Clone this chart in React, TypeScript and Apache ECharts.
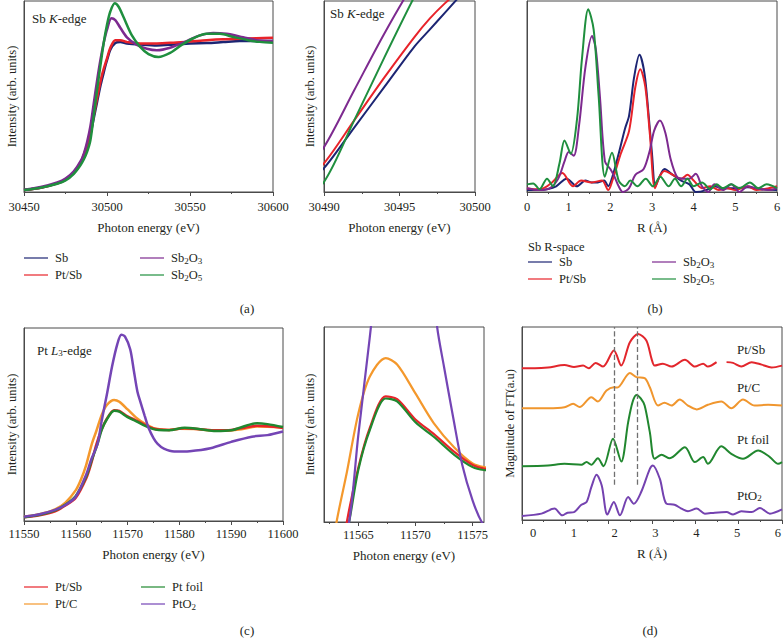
import React, { useEffect, useRef } from 'react';
import * as echarts from 'echarts';

type Pt = [number, number | null];

// ---------- tick labels / ranges ----------
const xTicksA = [30450, 30500, 30550, 30600];
const xTicksA2 = [30490, 30495, 30500];
const xTicksB = [0, 1, 2, 3, 4, 5, 6];
const xTicksC = [11550, 11560, 11570, 11580, 11590, 11600];
const xRangeC2 = [11562, 11576];
const xTicksC2 = [11565, 11570, 11575];
const xMinorC2 = [11562.5, 11567.5, 11572.5];
const xTicksD = [0, 1, 2, 3, 4, 5, 6];
const xLabelRangeD = [-0.27, 6.1];
const yRangeA2 = [0.25, 0.65];
const yRangeC2 = [0.4, 0.67];
const dashR = [2.12, 2.65];
const dashYFrom = 0.183;

// ---------- (a) Sb K-edge XANES ----------
const sbK: Pt[] = [[30450,0.01],[30460,0.022],[30470,0.045],[30475,0.065],[30480,0.1],[30484,0.15],[30486,0.19],[30488,0.24],[30490,0.3],[30492,0.385],[30494,0.47],[30496,0.555],[30497,0.59],[30498,0.625],[30499,0.66],[30500,0.69],[30502,0.745],[30505,0.78],[30508,0.785],[30512,0.778],[30520,0.772],[30530,0.767],[30540,0.772],[30550,0.778],[30560,0.78],[30570,0.785],[30580,0.79],[30590,0.79],[30600,0.79]];
const ptsbK: Pt[] = [[30450,0.01],[30460,0.022],[30470,0.045],[30475,0.065],[30480,0.1],[30484,0.15],[30486,0.195],[30488,0.245],[30490,0.31],[30492,0.4],[30494,0.49],[30496,0.575],[30497,0.613],[30498,0.645],[30499,0.672],[30500,0.7],[30502,0.755],[30505,0.795],[30508,0.795],[30512,0.785],[30520,0.778],[30530,0.778],[30540,0.782],[30550,0.788],[30560,0.795],[30570,0.8],[30580,0.802],[30590,0.805],[30600,0.807]];
const sb2o3K: Pt[] = [[30450,0.012],[30460,0.026],[30470,0.05],[30475,0.07],[30480,0.108],[30484,0.16],[30486,0.2],[30488,0.262],[30490,0.344],[30492,0.463],[30494,0.582],[30496,0.69],[30498,0.78],[30500,0.85],[30502.7,0.91],[30505,0.9],[30508,0.86],[30512,0.81],[30518,0.77],[30524,0.75],[30530,0.742],[30538,0.755],[30548,0.79],[30556,0.82],[30564,0.833],[30572,0.828],[30582,0.81],[30590,0.795],[30600,0.79]];
const sb2o5K: Pt[] = [[30450,0.01],[30460,0.022],[30470,0.043],[30475,0.06],[30480,0.095],[30484,0.14],[30486,0.17],[30488,0.21],[30490,0.271],[30492,0.4],[30494,0.532],[30496,0.66],[30498,0.78],[30500,0.875],[30502,0.945],[30504.7,0.988],[30507,0.97],[30510,0.915],[30515,0.82],[30520,0.76],[30525,0.722],[30531,0.707],[30538,0.728],[30545,0.77],[30552,0.805],[30560,0.828],[30568,0.828],[30576,0.812],[30585,0.795],[30592,0.786],[30600,0.782]];

// ---------- (b) Sb R-space ----------
const sbR: Pt[] = [[0,0.01],[0.3,0.01],[0.5,0.015],[0.7,0.03],[0.95,0.07],[1.2,0.03],[1.4,0.06],[1.55,0.05],[1.7,0.05],[1.85,0.06],[1.95,0.03],[2.05,0.08],[2.2,0.2],[2.35,0.33],[2.45,0.4],[2.57,0.6],[2.7,0.718],[2.82,0.62],[2.92,0.4],[3.0,0.2],[3.08,0.03],[3.18,0.08],[3.3,0.12],[3.5,0.09],[3.7,0.06],[3.9,0.04],[4.05,0.0],[4.3,0.01],[4.5,0.03],[4.7,0.02],[5.0,0.02],[5.3,0.025],[5.6,0.015],[6.0,0.01]];
const ptsbR: Pt[] = [[0,0.02],[0.2,0.015],[0.4,0.02],[0.6,0.05],[0.85,0.1],[1.1,0.03],[1.3,0.06],[1.55,0.05],[1.8,0.06],[1.95,0.01],[2.05,0.06],[2.25,0.2],[2.45,0.32],[2.6,0.55],[2.72,0.643],[2.84,0.55],[2.95,0.3],[3.07,0.02],[3.18,0.08],[3.3,0.11],[3.5,0.09],[3.7,0.07],[3.85,0.09],[4.0,0.06],[4.2,0.02],[4.4,0.03],[4.6,0.01],[4.8,0.02],[5.0,0.01],[5.3,0.03],[5.5,0.01],[5.8,0.02],[6.0,0.03]];
const sb2o3R: Pt[] = [[0,0.02],[0.3,0.01],[0.55,0.02],[0.75,0.07],[0.9,0.16],[1.0,0.21],[1.12,0.19],[1.25,0.35],[1.4,0.65],[1.56,0.817],[1.65,0.75],[1.75,0.5],[1.87,0.16],[2.0,0.12],[2.1,0.08],[2.2,0.03],[2.3,0.0],[2.45,0.02],[2.6,0.09],[2.8,0.12],[2.95,0.22],[3.05,0.32],[3.19,0.374],[3.32,0.31],[3.45,0.17],[3.6,0.08],[3.75,0.07],[3.9,0.07],[4.05,0.095],[4.2,0.03],[4.35,0.0],[4.5,0.04],[4.7,0.01],[4.9,0.04],[5.1,0.0],[5.3,0.03],[5.5,0.02],[5.8,0.01],[6.0,0.02]];
const sb2o5R: Pt[] = [[0,0.04],[0.15,0.045],[0.3,0.015],[0.48,0.07],[0.62,0.03],[0.78,0.15],[0.9,0.27],[1.05,0.2],[1.2,0.38],[1.32,0.7],[1.47,0.957],[1.6,0.85],[1.72,0.5],[1.87,0.08],[2.04,0.205],[2.2,0.06],[2.35,0.03],[2.48,0.06],[2.65,0.03],[2.85,0.07],[3.02,0.03],[3.2,0.08],[3.4,0.03],[3.55,0.07],[3.7,0.03],[3.85,0.07],[4.0,0.03],[4.2,0.05],[4.4,0.015],[4.55,0.04],[4.7,0.02],[4.9,0.04],[5.1,0.02],[5.35,0.05],[5.55,0.02],[5.75,0.04],[6.0,0.02]];

// ---------- (c) Pt L3-edge XANES ----------
const ptsbL: Pt[] = [[11550,0.02],[11553,0.03],[11556,0.05],[11558,0.08],[11560,0.12],[11562,0.22],[11563,0.3],[11564,0.4],[11565,0.475],[11566,0.53],[11567.4,0.574],[11568.4,0.57],[11570,0.542],[11571.6,0.522],[11573.4,0.497],[11575,0.479],[11576,0.474],[11578,0.472],[11581,0.48],[11584,0.476],[11587,0.47],[11590,0.472],[11593,0.486],[11595,0.493],[11597,0.491],[11600,0.482]];
const ptcL: Pt[] = [[11550,0.022],[11553,0.035],[11556,0.06],[11558,0.095],[11560,0.16],[11561,0.215],[11562,0.29],[11563.1,0.4],[11564,0.469],[11565,0.55],[11566,0.601],[11567.4,0.627],[11568.4,0.618],[11570,0.578],[11571.6,0.537],[11573.4,0.503],[11575,0.481],[11576,0.476],[11578,0.472],[11580,0.478],[11583,0.477],[11586,0.47],[11589,0.468],[11592,0.475],[11595,0.49],[11600,0.485]];
const ptfoilL: Pt[] = [[11550,0.02],[11553,0.032],[11556,0.055],[11558,0.085],[11560,0.13],[11562,0.23],[11563,0.31],[11564.2,0.4],[11565,0.472],[11566,0.527],[11567.4,0.571],[11568.4,0.567],[11570,0.538],[11571.6,0.518],[11573.4,0.493],[11575,0.476],[11576,0.472],[11578,0.47],[11581,0.483],[11584,0.476],[11587,0.466],[11590,0.47],[11593,0.495],[11595,0.507],[11597,0.502],[11600,0.487]];
const pto2L: Pt[] = [[11550,0.022],[11553,0.035],[11556,0.058],[11558,0.083],[11560,0.126],[11562,0.24],[11563,0.32],[11564.2,0.4],[11565,0.52],[11566,0.655],[11567,0.8],[11568,0.915],[11568.8,0.965],[11569.5,0.955],[11570.5,0.89],[11571.2,0.78],[11571.9,0.67],[11572.5,0.615],[11573.3,0.545],[11574.1,0.479],[11575,0.43],[11575.8,0.4],[11577,0.375],[11579,0.36],[11582,0.362],[11586,0.377],[11590,0.41],[11594,0.437],[11597,0.445],[11600,0.464]];

// ---------- (d) Pt R-space (stacked) ----------
const ptsbFT: Pt[] = [[0,0.786],[0.3,0.786],[0.6,0.79],[0.98,0.803],[1.2,0.793],[1.41,0.8],[1.54,0.786],[1.7,0.814],[1.87,0.795],[2.12,0.878],[2.29,0.8],[2.49,0.921],[2.68,0.964],[2.87,0.93],[2.99,0.835],[3.06,0.8],[3.25,0.81],[3.45,0.795],[3.76,0.83],[3.99,0.795],[4.18,0.81],[4.29,0.795],[4.49,0.818],[4.6,null],[4.72,0.818],[4.87,0.814],[5.06,0.795],[5.3,0.818],[5.53,0.805],[5.76,0.79],[6.0,0.8]];
const ptcFT: Pt[] = [[0,0.579],[0.6,0.579],[0.98,0.584],[1.18,0.602],[1.33,0.585],[1.6,0.636],[1.75,0.614],[1.95,0.671],[2.12,0.688],[2.2,0.686],[2.49,0.762],[2.64,0.74],[2.83,0.735],[2.95,0.688],[3.14,0.593],[3.29,0.607],[3.45,0.593],[3.64,0.624],[3.83,0.593],[4.03,0.573],[4.29,0.597],[4.6,0.614],[4.83,0.579],[5.1,0.624],[5.37,0.593],[5.68,0.597],[6.0,0.593]];
const ptfoilFT: Pt[] = [[0,0.279],[0.6,0.283],[0.98,0.291],[1.37,0.286],[1.49,0.3],[1.6,0.286],[1.75,0.32],[1.88,0.279],[2.1,0.421],[2.29,0.303],[2.45,0.507],[2.55,0.61],[2.64,0.648],[2.74,0.63],[2.83,0.593],[2.95,0.455],[3.06,0.317],[3.22,0.338],[3.41,0.32],[3.76,0.377],[3.99,0.3],[4.18,0.326],[4.29,0.291],[4.6,0.382],[4.83,0.343],[5.1,0.317],[5.45,0.36],[5.72,0.326],[5.91,0.291],[6.0,0.3]];
const pto2FT: Pt[] = [[0,0.021],[0.45,0.033],[0.75,0.059],[0.93,0.024],[1.05,0.038],[1.2,0.041],[1.37,0.079],[1.49,0.093],[1.6,0.17],[1.72,0.234],[1.84,0.179],[1.97,0.028],[2.12,0.093],[2.26,0.024],[2.45,0.119],[2.58,0.084],[2.75,0.145],[2.95,0.265],[3.02,0.283],[3.18,0.214],[3.33,0.085],[3.52,0.079],[3.68,0.059],[3.83,0.045],[4.03,0.059],[4.22,0.033],[4.45,0.038],[4.72,0.041],[4.87,0.028],[5.06,0.045],[5.3,0.041],[5.49,0.062],[5.72,0.033],[6.0,0.055]];

const legendSbCol1 = ['Sb', 'Pt/Sb'];
const legendSbCol2 = ['Sb2O3', 'Sb2O5'];
const legendPtCol1 = ['Pt/Sb', 'Pt/C'];
const legendPtCol2 = ['Pt foil', 'PtO2'];
const ftLabels = ['Pt/Sb', 'Pt/C', 'Pt foil', 'PtO2'];

const FONT = '"Liberation Serif", "DejaVu Serif", serif';
const INK = '#231f20';
const FRAME = '#4a4a4a';

const C = {
  sb: '#1c2573',
  ptsb: '#e8232a',
  sb2o3: '#7d2a8f',
  sb2o5: '#1f8f3e',
  ptc: '#f4982c',
  ptfoil: '#20882f',
  pto2: '#7445b5',
};

const grids = [
  { left: 24, top: 1, width: 249, height: 191 },
  { left: 324, top: 1, width: 151, height: 191 },
  { left: 527, top: 1, width: 250, height: 191 },
  { left: 24, top: 328, width: 259, height: 193 },
  { left: 324, top: 327, width: 160, height: 195 },
  { left: 522, top: 327, width: 260, height: 193 },
];

const plain = (v: number) => String(v);
const labelStyle = { fontFamily: FONT, fontSize: 12.5, color: INK };
const nameStyle = { fontFamily: FONT, fontSize: 13, color: INK };

function xAxisTicks(gridIndex: number, ticks: number[], name: string, margin: number, nameGap: number) {
  return {
    type: 'value', gridIndex, position: 'bottom',
    min: ticks[0], max: ticks[ticks.length - 1], interval: ticks[1] - ticks[0],
    axisLine: { show: true, onZero: false, lineStyle: { color: FRAME, width: 1 } },
    axisTick: { show: true, inside: false, length: 4, lineStyle: { color: FRAME } },
    minorTick: { show: true, splitNumber: 2, length: 2, lineStyle: { color: FRAME } },
    splitLine: { show: false }, minorSplitLine: { show: false },
    axisLabel: { show: true, margin, formatter: plain, ...labelStyle },
    name, nameLocation: 'middle', nameGap, nameTextStyle: nameStyle,
  };
}

function yAxis(gridIndex: number, min: number, max: number, name: string, nameGap: number) {
  return {
    type: 'value', gridIndex, min, max, position: 'left',
    axisLine: { show: true, onZero: false, lineStyle: { color: FRAME, width: 1 } },
    axisTick: { show: false }, axisLabel: { show: false }, splitLine: { show: false },
    name, nameLocation: 'middle', nameGap, nameTextStyle: { ...nameStyle, fontSize: 12.5 },
  };
}

function line(name: string, data: Pt[], color: string, xi: number, yi: number, width: number, extra: any = {}) {
  return {
    type: 'line', name, data, xAxisIndex: xi, yAxisIndex: yi,
    showSymbol: false, symbol: 'none', smooth: 0.3,
    connectNulls: false, clip: true, silent: true,
    lineStyle: { color, width }, itemStyle: { color },
    ...extra,
  };
}

const subFmt = (name: string) => name.replace(/(\d)/g, '{s|$1}');
const rich = {
  s: { fontFamily: FONT, fontSize: 9, lineHeight: 9, verticalAlign: 'bottom', color: INK },
};

function legend(data: string[], left: number, top: number) {
  return {
    data, left, top, orient: 'vertical', icon: 'rect', itemWidth: 24, itemHeight: 2,
    itemGap: 3, padding: 0, selectedMode: false,
    itemStyle: { opacity: 0.6 },
    formatter: subFmt,
    textStyle: { ...labelStyle, lineHeight: 14, padding: [0, 0, 0, 2], rich },
  };
}

function txt(x: number, y: number, text: string, align = 'left', richStyles: any = undefined, size = 13) {
  return {
    type: 'text', x, y, silent: true,
    style: {
      text, fill: INK, font: `${size}px ${FONT}`,
      fontFamily: FONT, fontSize: size,
      align, verticalAlign: 'middle', textAlign: align, textVerticalAlign: 'middle',
      rich: richStyles,
    },
  };
}

const edgeRich = {
  n: { fontFamily: FONT, fontSize: 13, lineHeight: 15, fill: INK },
  i: { fontFamily: FONT, fontSize: 13, lineHeight: 15, fontStyle: 'italic', fill: INK },
  s: { fontFamily: FONT, fontSize: 9, lineHeight: 9, verticalAlign: 'bottom', fill: INK },
};
const labRich = {
  n: { fontFamily: FONT, fontSize: 13, lineHeight: 15, fill: INK },
  s: { fontFamily: FONT, fontSize: 9, lineHeight: 9, verticalAlign: 'bottom', fill: INK },
};
const ftLabelY = [349, 387, 439, 495];
const ftRichText = (l: string) => l.replace(/(\d)/g, '}{s|$1}{n|').replace(/^/, '{n|').concat('}').replace(/\{n\|\}/g, '');

export default function App() {
  const ref = useRef<HTMLDivElement>(null);
  useEffect(() => {
    if (!ref.current) return;
    const chart = echarts.init(ref.current, undefined, { renderer: 'svg' });
    const option: any = {
      animation: false,
      backgroundColor: '#ffffff',
      grid: grids.map((g) => ({
        ...g, show: true, borderColor: FRAME, borderWidth: 1, backgroundColor: 'transparent',
        containLabel: false, outerBoundsMode: 'none',
      })),
      xAxis: [
        xAxisTicks(0, xTicksA, 'Photon energy (eV)', 8, 29),
        xAxisTicks(1, xTicksA2, 'Photon energy (eV)', 8, 29),
        xAxisTicks(2, xTicksB, 'R (Å)', 8, 29),
        xAxisTicks(3, xTicksC, 'Photon energy (eV)', 6, 27),
        {
          type: 'value', gridIndex: 4, position: 'bottom', min: xRangeC2[0], max: xRangeC2[1],
          axisLine: { show: true, onZero: false, lineStyle: { color: FRAME, width: 1 } },
          axisTick: { show: true, length: 4, customValues: xTicksC2, lineStyle: { color: FRAME } },
          minorTick: { show: false }, splitLine: { show: false },
          axisLabel: { show: true, margin: 6, customValues: xTicksC2, formatter: plain, ...labelStyle },
          name: 'Photon energy (eV)', nameLocation: 'middle', nameGap: 27, nameTextStyle: nameStyle,
        },
        {
          type: 'value', gridIndex: 4, position: 'bottom', min: xRangeC2[0], max: xRangeC2[1],
          axisLine: { show: false }, splitLine: { show: false }, axisLabel: { show: false },
          axisTick: { show: true, length: 2, customValues: xMinorC2, lineStyle: { color: FRAME } },
        },
        {
          type: 'value', gridIndex: 5, position: 'bottom', min: xTicksD[0], max: xTicksD[xTicksD.length - 1], interval: 1,
          axisLine: { show: true, onZero: false, lineStyle: { color: FRAME, width: 1 } },
          axisTick: { show: true, length: 4, lineStyle: { color: FRAME } },
          minorTick: { show: true, splitNumber: 2, length: 2, lineStyle: { color: FRAME } },
          splitLine: { show: false }, axisLabel: { show: false },
        },
        {
          type: 'value', gridIndex: 5, position: 'bottom', min: xLabelRangeD[0], max: xLabelRangeD[1],
          axisLine: { show: false }, axisTick: { show: false }, splitLine: { show: false },
          axisLabel: { show: true, margin: 6, customValues: xTicksD, formatter: plain, ...labelStyle },
          name: 'R (Å)', nameLocation: 'middle', nameGap: 27, nameTextStyle: nameStyle,
        },
      ],
      yAxis: [
        yAxis(0, 0, 1, 'Intensity (arb. units)', 6),
        yAxis(1, yRangeA2[0], yRangeA2[1], 'Intensity (arb. units)', 8),
        yAxis(2, 0, 1, '', 6),
        yAxis(3, 0, 1, 'Intensity (arb. units)', 6),
        yAxis(4, yRangeC2[0], yRangeC2[1], 'Intensity (arb. units)', 8),
        yAxis(5, 0, 1, 'Magnitude of FT(a.u)', 6),
      ],
      legend: [
        legend(legendSbCol1, 24, 251),
        legend(legendSbCol2, 140, 251),
        legend(legendSbCol1, 528, 255),
        legend(legendSbCol2, 652, 255),
        legend(legendPtCol1, 24, 580),
        legend(legendPtCol2, 141, 580),
      ],
      series: [
        line('Sb', sbK, C.sb, 0, 0, 2.5),
        line('Pt/Sb', ptsbK, C.ptsb, 0, 0, 2.5),
        line('Sb2O3', sb2o3K, C.sb2o3, 0, 0, 2.5),
        line('Sb2O5', sb2o5K, C.sb2o5, 0, 0, 2.5),

        line('Sb', sbK, C.sb, 1, 1, 2),
        line('Pt/Sb', ptsbK, C.ptsb, 1, 1, 2),
        line('Sb2O3', sb2o3K, C.sb2o3, 1, 1, 2),
        line('Sb2O5', sb2o5K, C.sb2o5, 1, 1, 2),

        line('Sb', sbR, C.sb, 2, 2, 2),
        line('Pt/Sb', ptsbR, C.ptsb, 2, 2, 2),
        line('Sb2O3', sb2o3R, C.sb2o3, 2, 2, 2),
        line('Sb2O5', sb2o5R, C.sb2o5, 2, 2, 2),

        line('Pt/C', ptcL, C.ptc, 3, 3, 2.5),
        line('Pt/Sb', ptsbL, C.ptsb, 3, 3, 2.5),
        line('Pt foil', ptfoilL, C.ptfoil, 3, 3, 2.5),
        line('PtO2', pto2L, C.pto2, 3, 3, 2.5),

        line('Pt/C', ptcL, C.ptc, 4, 4, 2.2),
        line('Pt/Sb', ptsbL, C.ptsb, 4, 4, 2.2),
        line('Pt foil', ptfoilL, C.ptfoil, 4, 4, 2.2),
        line('PtO2', pto2L, C.pto2, 4, 4, 2.2),

        line('Pt/Sb', ptsbFT, '#e2262c', 6, 5, 2),
        line('Pt/C', ptcFT, '#f0962e', 6, 5, 2),
        line('Pt foil', ptfoilFT, '#21872f', 6, 5, 2),
        line('PtO2', pto2FT, '#7442b0', 6, 5, 2, {
          markLine: {
            silent: true, symbol: 'none', label: { show: false },
            lineStyle: { type: 'dashed', color: '#707070', width: 1.3 },
            data: dashR.map((r) => [{ coord: [r, dashYFrom] }, { coord: [r, 1] }]),
          },
        }),
      ],
      graphic: [
        txt(32, 18, '{n|Sb }{i|K}{n|-edge}', 'left', edgeRich),
        txt(330, 13, '{n|Sb }{i|K}{n|-edge}', 'left', edgeRich),
        txt(37, 350, '{n|Pt }{i|L}{s|3}{n|-edge}', 'left', edgeRich),
        txt(528, 247, 'Sb R-space', 'left', undefined, 12.5),
        txt(247, 308, '(a)', 'center'),
        txt(655, 308, '(b)', 'center'),
        txt(247, 630, '(c)', 'center'),
        txt(650, 630, '(d)', 'center'),
        ...ftLabels.map((l, i) => txt(737, ftLabelY[i], ftRichText(l), 'left', labRich)),
      ],
    };
    chart.setOption(option);
    return () => chart.dispose();
  }, []);
  return <div ref={ref} style={{ position: 'fixed', left: 0, top: 0, width: 784, height: 644 }} />;
}
